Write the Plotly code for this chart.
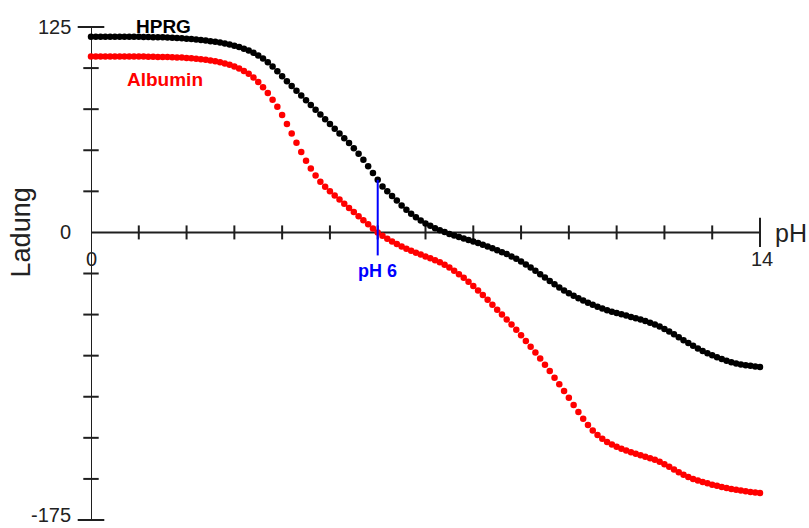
import plotly.graph_objects as go

# pH grid of the titration curves (step 0.1 from 0 to 14)
ph = [round(i * 0.1, 1) for i in range(141)]

# Net charge of HPRG versus pH
hprg = [
    119.0, 119.0, 119.0, 119.0, 119.0, 119.0, 119.0, 119.0, 119.0, 119.0, 119.0,
    118.9, 118.9, 118.8, 118.8, 118.7,
    118.6, 118.5, 118.3, 118.1, 117.9, 117.7, 117.4, 117.1, 116.8, 116.4, 116.0,
    115.5, 114.9, 114.3, 113.6, 112.8, 111.8, 110.7, 109.3, 107.7, 105.8, 103.6,
    101.0, 98.1, 95.0, 92.0, 89.1, 86.2, 83.3, 80.4, 77.5, 74.7, 71.8, 68.9, 66.0,
    63.1, 60.2, 57.3, 54.4,
    51.2, 47.8, 44.2, 40.2, 36.2, 32.0,
    28.0, 25.0, 22.2, 19.4, 16.4, 13.8, 11.3, 9.2, 7.2, 5.5, 4.0, 2.6, 1.3, 0.2,
    -0.9, -1.9, -2.8, -3.7, -4.6, -5.5,
    -6.5, -7.5, -8.6, -9.7, -10.9, -12.0, -13.2, -14.6, -16.1, -17.7,
    -19.5, -21.4, -23.4, -25.4, -27.5, -29.6, -31.6, -33.5, -35.3, -37.0,
    -38.6, -40.1, -41.5, -42.8, -44.0, -45.2, -46.3, -47.3, -48.2, -49.0,
    -49.8, -50.6, -51.4, -52.2, -53.0, -53.9, -54.9, -56.0, -57.3, -58.7,
    -60.3, -62.0, -63.8, -65.6, -67.3, -69.0, -70.6, -72.1, -73.5, -74.8,
    -76.0, -77.1, -78.1, -79.0, -79.7, -80.3, -80.8, -81.2, -81.6, -81.9,
]

# Net charge of albumin versus pH
albumin = [
    107.0, 107.0, 107.0, 107.0, 107.0, 107.0, 107.0, 107.0, 107.0, 107.0, 107.0,
    107.0, 106.9, 106.9, 106.8, 106.8, 106.7, 106.6, 106.5, 106.4, 106.2,
    106.0, 105.7, 105.4, 105.0, 104.6, 104.1, 103.5, 102.8, 102.0, 101.0,
    99.8, 98.3, 96.5, 94.3, 91.6, 88.4, 84.8, 80.8, 76.5,
    71.5, 66.0, 60.2, 54.5, 49.0, 43.6, 38.9, 34.6, 30.9, 27.8,
    25.0, 22.5, 20.0, 17.4, 14.9, 12.4, 9.9, 7.4, 4.9, 2.4, 0.0,
    -2.0, -3.8, -5.5, -7.0, -8.5, -9.9, -11.2, -12.4, -13.5, -14.6,
    -15.7, -16.9, -18.2, -19.7, -21.4, -23.3, -25.4, -27.6, -30.0, -32.6,
    -35.3, -38.1, -41.0, -44.0, -47.0, -50.0, -53.0, -56.1, -59.3, -62.6,
    -66.0, -69.5, -73.1, -76.8, -80.6, -84.4, -88.4, -92.4, -96.5, -100.6,
    -105.0, -109.3, -113.4, -117.2, -120.5, -123.3, -125.6, -127.5, -129.1, -130.4,
    -131.6, -132.7, -133.7, -134.7, -135.6, -136.5, -137.4, -138.4, -139.6, -141.0,
    -142.6, -144.3, -146.0, -147.5, -148.8, -150.0, -151.0, -151.9, -152.7, -153.5,
    -154.2, -154.9, -155.5, -156.1, -156.6, -157.1, -157.5, -157.9, -158.3, -158.6,
]

# Axis limits, tick positions and labels
x_min, x_max = 0, 14
y_min, y_max = -175, 125
x_minor_ticks = list(range(1, 14))
y_minor_ticks = [100, 75, 50, 25, -25, -50, -75, -100, -125, -150]
y_label_vals = [125, 0, -175]
y_label_text = ["125", "0", "-175"]

# Reference pH marked on the chart
marked_ph = 6.0
marked_charge_top = 32.0
marked_charge_bottom = -14.0

AXIS = "#1f1f1f"
TEXT = "#222222"
FONT = "Liberation Sans, Arial, sans-serif"

fig = go.Figure()

# axis tick marks crossing the axis lines
fig.add_trace(go.Scatter(
    x=x_minor_ticks, y=[0] * len(x_minor_ticks), mode="markers",
    marker=dict(symbol="line-ns", size=10, line=dict(color=AXIS, width=2)),
    hoverinfo="skip", cliponaxis=False, showlegend=False))
fig.add_trace(go.Scatter(
    x=[x_max], y=[0], mode="markers",
    marker=dict(symbol="line-ns", size=21, line=dict(color=AXIS, width=2)),
    hoverinfo="skip", cliponaxis=False, showlegend=False))
fig.add_trace(go.Scatter(
    x=[0] * len(y_minor_ticks), y=y_minor_ticks, mode="markers",
    marker=dict(symbol="line-ew", size=11, line=dict(color=AXIS, width=2)),
    hoverinfo="skip", cliponaxis=False, showlegend=False))
fig.add_trace(go.Scatter(
    x=[0, 0], y=[y_max, y_min], mode="markers",
    marker=dict(symbol="line-ew", size=19, line=dict(color=AXIS, width=2)),
    hoverinfo="skip", cliponaxis=False, showlegend=False))

# titration curves drawn as dots
fig.add_trace(go.Scatter(
    x=ph, y=albumin, mode="markers", name="Albumin",
    marker=dict(color="#ff0000", size=6.5, line=dict(width=0)),
    cliponaxis=False, showlegend=False))
fig.add_trace(go.Scatter(
    x=ph, y=hprg, mode="markers", name="HPRG",
    marker=dict(color="#000000", size=6.5, line=dict(width=0)),
    cliponaxis=False, showlegend=False))

# marker line at pH 6
fig.add_trace(go.Scatter(
    x=[marked_ph, marked_ph], y=[marked_charge_top, marked_charge_bottom],
    mode="lines", line=dict(color="#0000ff", width=2),
    hoverinfo="skip", cliponaxis=False, showlegend=False))

shapes = [
    dict(type="line", xref="x", yref="y", x0=x_min, x1=x_max, y0=0, y1=0,
         line=dict(color=AXIS, width=2), layer="below"),
    dict(type="line", xref="x", yref="y", x0=0, x1=0, y0=y_min, y1=y_max,
         line=dict(color=AXIS, width=2), layer="below"),
]

annotations = [
    dict(x=0, y=0, xref="x", yref="y", text="0", showarrow=False,
         yshift=-27, font=dict(family=FONT, size=20, color=TEXT)),
    dict(x=x_max, y=0, xref="x", yref="y", text="14", showarrow=False,
         yshift=-27, xshift=2, font=dict(family=FONT, size=20, color=TEXT)),
    dict(x=x_max, y=0, xref="x", yref="y", text="pH", showarrow=False,
         xanchor="left", xshift=13, yshift=-1,
         font=dict(family=FONT, size=25, color=TEXT)),
    dict(x=0, y=0, xref="paper", yref="y", text="Ladung",
         showarrow=False, textangle=-90, xanchor="center", yanchor="middle",
         xshift=-70, font=dict(family=FONT, size=27, color=TEXT)),
    dict(x=1.52, y=125, xref="x", yref="y", text="<b>HPRG</b>", showarrow=False,
         yanchor="middle", yshift=1,
         font=dict(family=FONT, size=19, color="#000")),
    dict(x=1.54, y=93, xref="x", yref="y", text="<b>Albumin</b>", showarrow=False,
         yanchor="middle", font=dict(family=FONT, size=19, color="#ff0000")),
    dict(x=marked_ph, y=marked_charge_bottom, xref="x", yref="y",
         text="<b>pH 6</b>", showarrow=False, yanchor="top", yshift=-4,
         font=dict(family=FONT, size=18, color="#0000ff")),
]

# y-axis value labels left of the axis line; the lowest one is lifted
# slightly so it stays inside the page
label_lift = {125: 0, 0: 0, -175: 5}
for val, txt in zip(y_label_vals, y_label_text):
    annotations.append(dict(
        x=0, y=val, xref="x", yref="y", text=txt, showarrow=False,
        xanchor="right", yanchor="middle", xshift=-18, yshift=label_lift[val],
        font=dict(family=FONT, size=20, color=TEXT)))

fig.update_layout(
    width=809, height=528,
    margin=dict(l=91, r=49, t=27, b=8),
    paper_bgcolor="white", plot_bgcolor="white",
    xaxis=dict(range=[x_min, x_max], showgrid=False, zeroline=False,
               showline=False, showticklabels=False, ticks=""),
    yaxis=dict(range=[y_min, y_max], showgrid=False, zeroline=False,
               showline=False, showticklabels=False, ticks=""),
    shapes=shapes,
    annotations=annotations,
    showlegend=False,
)

fig.write_html("out.html")
